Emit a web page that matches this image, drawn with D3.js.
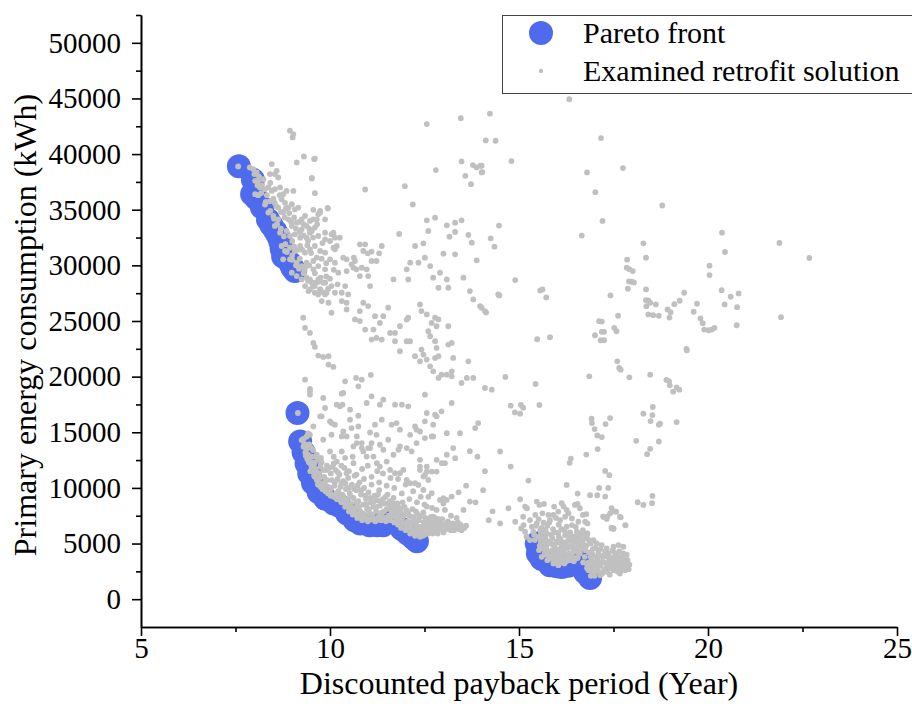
<!DOCTYPE html>
<html>
<head>
<meta charset="utf-8">
<script src="https://cdn.jsdelivr.net/npm/d3@7"></script>
<style>
  body { margin: 0; background: #ffffff; }
  svg text { font-family: "Liberation Serif", "Times New Roman", serif; fill: #000; }
</style>
</head>
<body>
<svg id="chart" width="912" height="727"></svg>
<script>
// Axis ticks
const xTicks = [5, 10, 15, 20, 25];
const xMinorTicks = [7.5, 12.5, 17.5, 22.5];
const yTicks = [0, 5000, 10000, 15000, 20000, 25000, 30000, 35000, 40000, 45000, 50000];
const yMinorTicks = [2500, 7500, 12500, 17500, 22500, 27500, 32500, 37500, 42500, 47500, 52500];

// Series labels
const seriesNames = ["Pareto front", "Examined retrofit solution"];

// Pareto-optimal solutions [payback years, primary energy kWh]
const paretoFront = [
  [7.59,38900],[7.96,37700],[7.94,36400],[8.05,36000],[8.2,35200],[8.36,34100],[8.45,33600],[8.55,33100],
  [8.62,32700],[8.68,32200],[8.72,31500],[8.76,30800],[8.95,30200],[9.0,29800],[9.07,29500],
  [9.14,16730],[9.21,14170],[9.3,13200],[9.38,12200],[9.45,11300],[9.55,10450],[9.7,9600],[9.88,9000],
  [10.1,8600],[10.25,8400],[10.45,7700],[10.65,7100],[10.8,6800],[11.05,6650],[11.25,6650],[11.4,6650],
  [11.6,7000],[11.7,7050],[11.9,6300],[12.05,5900],[12.2,5500],[12.3,5200],
  [15.47,5000],[15.5,4100],[15.6,3600],[15.82,3050],[16.0,2950],[16.13,2900],[16.3,3000],[16.6,3350],
  [16.67,2900],[16.75,2400],[16.88,1900]
];

// Examined solutions: short-payback upper branch
const upperBranch = [
  [8.94,42100],[9.03,41800],[9.01,41500],[7.57,38890],[8.46,39100],[8.59,38500],[8.63,37900],[8.41,38200],
  [8.54,38200],[9.12,39250],[9.31,39790],[9.58,39550],[9.52,37810],[9.6,36490],[9.56,34990],[9.74,34900],
  [9.94,35110],[9.87,34140],[7.88,38800],[7.97,38650],[8.06,38350],[8.02,37600],[8.1,37600],[8.24,37750],
  [8.15,37000],[8.28,36850],[8.37,37000],[8.46,36690],[8.54,36850],[8.68,37000],[8.76,36400],[8.85,36690],
  [9.03,36690],[8.02,36400],[8.1,36310],[8.28,35460],[8.41,35760],[8.54,35610],[8.63,35190],[8.72,35940],
  [8.81,35610],[8.9,35190],[8.99,35490],[9.07,35040],[9.16,35190],[9.25,34140],[9.34,34440],[9.47,33990],
  [9.56,34140],[9.65,34140],[8.37,34750],[8.5,34440],[8.63,34140],[8.76,34750],[8.9,34140],[8.99,33540],
  [9.12,33840],[9.25,33240],[9.38,33540],[9.47,32940],[8.54,33540],[8.68,32940],[8.85,33090],[8.94,32640],
  [9.07,32790],[9.21,32490],[9.38,32490],[9.52,33090],[9.69,32640],[9.87,32940],[10.04,32790],[10.13,32490],
  [10.26,32490],[8.72,31740],[8.81,31290],[8.94,31590],[9.07,31290],[9.21,31740],[9.34,31140],[9.47,31440],
  [9.6,31740],[9.74,31290],[9.87,31140],[10.0,30540],[10.13,30240],[8.76,30540],[8.94,30540],[9.12,30240],
  [9.25,29940],[9.38,30240],[9.56,30390],[9.69,29940],[9.87,29640],[8.99,29340],[9.12,29040],[9.25,28740],
  [9.38,28890],[9.52,28440],[9.34,28140],[9.47,27840],[9.6,28140],[9.74,27840],[9.87,28440],[10.04,28140],
  [10.13,27540],[9.69,27390],[9.87,27390],[9.6,39580],[9.52,37870],[9.94,35160],[9.74,34750],[9.69,34600],
  [9.66,33690],[9.87,32340],[10.09,32940],[10.0,32190],[10.18,31740],[10.09,31590],[10.13,31440],
  [8.12,38000],[8.2,37200],[8.33,36300],[8.42,37400],[8.5,36000],[8.58,35300],[8.67,36300],[8.7,34800],
  [8.8,34300],[8.83,35100],[8.92,34700],[8.97,33900],[9.05,34300],[9.1,33300],[9.18,33900],[9.2,33000],
  [9.3,32700],[9.3,33700],[9.42,32200],[9.45,33300],[9.55,32500],[9.6,33400],[9.8,32000],[9.0,32200],
  [9.05,31700],[9.15,31400],[9.27,31400],[9.4,31800],[9.5,31100],[9.65,30700],[9.78,30600],[9.9,30200],
  [9.0,30900],[9.2,30600],[9.33,29600],[9.45,30000],[9.6,29300],[9.75,28900],[9.9,29000],[10.0,28800],
  [9.3,29300],[9.42,28600],[9.55,28100],[9.68,28500],[9.8,27600],[9.95,27900],[10.2,28300],[10.1,29600],
  [8.0,38200],[8.08,37200],[8.18,36500],[8.3,35700],[8.42,34900],[8.52,34200],[8.6,33700],[8.7,33300],
  [8.78,32600],[8.82,31900],[8.86,31200],[9.0,30500],[9.1,30000],[9.18,29700]
];

// Examined solutions: scattered middle region
const midScatter = [
  [10.35,30690],[10.44,30540],[10.63,30690],[10.79,31890],[10.93,31890],[10.88,31290],[11.1,31230],[11.0,31080],
  [11.37,31740],[11.3,31080],[12.51,30690],[12.25,31740],[12.47,31980],[11.83,32820],[13.0,31050],[13.31,30990],
  [13.16,32580],[13.31,33000],[13.31,33840],[13.48,34050],[13.09,33600],[12.56,34050],[12.78,34290],[12.6,33090],
  [13.66,32730],[13.75,32040],[13.88,30450],[13.46,43220],[12.56,42700],[13.48,39340],[13.78,39010],[13.88,38800],
  [13.98,38950],[14.01,38350],[13.58,38050],[13.73,37300],[12.8,38560],[11.98,37120],[12.19,35470],[10.93,36820],
  [9.38,29940],[9.56,29640],[9.47,28740],[9.6,28440],[9.69,28740],[9.82,28440],[9.74,27840],[9.43,27690],
  [9.6,27540],[9.91,27540],[9.78,26790],[9.96,26640],[10.22,29340],[10.44,29490],[10.57,30090],[10.7,29640],
  [10.84,29790],[10.97,29640],[10.79,29040],[11.01,29040],[11.06,28140],[10.4,28140],[10.31,27540],[10.48,27390],
  [10.31,26790],[10.44,26640],[10.44,26040],[10.04,25740],[9.29,25290],[9.34,24380],[9.47,23930],[9.56,23030],
  [9.6,22670],[9.69,21890],[9.82,21770],[9.96,21830],[9.96,21080],[10.09,20870],[9.34,19730],[9.47,18890],
  [9.47,18380],[9.82,18080],[9.87,17180],[9.78,16430],[10.04,15830],[10.13,15680],[10.26,17330],[10.33,17480],
  [10.4,19580],[10.69,19880],[10.84,19730],[10.75,19130],[10.35,18530],[11.08,20150],[11.19,25430],[11.32,24830],
  [11.41,25430],[11.54,26190],[10.79,25890],[10.88,26640],[11.01,26340],[10.66,25140],[10.79,24990],[10.93,24230],
  [11.15,24230],[11.1,23330],[11.23,23480],[11.37,23330],[11.59,23930],[11.72,23930],[11.85,24530],[11.72,23180],
  [12.07,25290],[12.03,25130],[12.42,25890],[12.56,25590],[12.38,26490],[12.69,24830],[12.78,25290],[12.82,24530],
  [12.6,24080],[12.65,23630],[12.78,23180],[13.13,24530],[12.87,25140],[11.85,22280],[12.03,23180],[12.12,23180],
  [12.25,21830],[12.42,22430],[12.47,21980],[12.38,21380],[12.56,21530],[12.65,20930],[12.82,22580],[12.78,21680],
  [12.87,21830],[12.73,20480],[12.87,19880],[12.95,20180],[13.09,20180],[13.22,20030],[13.22,20480],[13.26,21680],
  [13.13,22880],[13.22,23030],[13.66,21380],[13.48,19430],[13.62,19880],[13.79,19880],[14.1,18980],[14.28,18830],
  [14.45,27390],[14.1,25890],[13.97,26340],[13.79,26940],[13.7,27690],[13.53,28890],[13.09,28740],[13.13,27990],
  [12.87,27990],[12.91,29340],[12.73,28890],[12.65,29940],[12.34,30240],[12.03,29640],[11.68,28740],[12.07,28740],
  [12.12,30240],[11.23,30390],[11.1,30390],[10.66,30390],[10.62,29790],[12.51,18380],[13.22,17630],[12.95,16880],
  [12.78,16580],[12.73,15680],[12.56,16730],[12.25,15530],[12.38,15070],[12.12,14770],[11.85,15230],[11.76,15830],
  [11.63,15680],[11.32,17480],[11.41,17930],[11.37,16130],[11.19,15680],[11.06,14980],[10.75,15530],[10.57,15380],
  [10.35,15070],[10.04,14780],[13.09,14920],[13.44,14920],[13.92,15830],[13.84,15380],[11.23,14770],[10.97,17630],
  [11.1,18230],[11.9,17480],[12.07,17330],[9.47,18680],[10.31,18470],[10.18,17480],[10.53,17030],[10.75,16490],
  [11.72,17480],[12.82,16430],[12.51,15980],[12.29,15230],[10.53,16130],[10.0,15980],[9.74,16430],[9.56,15530]
];

// Examined solutions: dense band along the lower Pareto branch
const lowerBranch = [
  [9.15,16730],[9.25,14300],[9.3,13700],[9.35,13200],[9.4,12600],[9.45,13900],[9.5,12100],[9.38,14600],
  [9.48,11500],[9.55,13400],[9.52,12800],[9.42,14900],[9.6,12300],[9.58,11100],[9.65,13000],[9.62,11700],
  [9.7,12600],[9.68,10700],[9.75,11900],[9.72,11300],[9.8,10400],[9.78,12300],[9.85,11000],[9.82,9900],
  [9.9,11600],[9.88,10600],[9.95,10100],[9.92,12000],[10.0,9600],[10.02,11300],[10.05,10700],[10.08,9300],
  [10.1,12200],[10.12,10200],[10.15,11600],[10.18,9000],[10.2,10800],[10.22,9700],[10.25,11200],[10.28,10100],
  [10.3,8700],[10.33,9400],[10.35,10600],[10.38,11800],[10.4,8300],[10.42,9900],[10.45,9000],[10.48,10900],
  [10.5,7900],[10.52,9500],[10.55,8600],[10.58,10300],[10.6,7600],[10.62,9100],[10.65,11100],[10.68,8200],
  [10.7,9800],[10.72,7300],[10.75,8800],[10.78,10500],[10.8,7900],[10.82,9400],[10.85,7100],[10.88,8500],
  [10.9,10000],[10.92,7600],[10.95,9000],[10.98,8100],[11.0,7000],[11.02,9600],[11.05,7700],[11.08,8700],
  [11.1,10300],[11.12,7200],[11.15,8300],[11.18,9300],[11.2,7000],[11.22,7900],[11.25,8900],[11.28,7400],
  [11.3,9800],[11.32,8400],[11.35,7100],[11.38,7800],[11.4,9000],[11.42,7300],[11.45,8600],[11.48,7000],
  [11.5,8100],[11.52,9400],[11.55,7500],[11.58,8800],[11.6,7100],[11.62,8300],[11.65,7700],[11.68,9100],
  [11.7,6900],[11.72,8000],[11.75,7300],[11.78,8600],[11.8,6700],[11.82,7700],[11.85,8200],[11.88,6400],
  [11.9,7200],[11.92,8700],[11.95,6800],[11.98,7600],[12.0,6200],[12.02,8000],[12.05,7000],[12.08,6500],
  [12.1,7500],[12.12,5900],[12.15,6900],[12.18,8100],[12.2,6300],[12.22,7300],[12.25,5700],[12.28,6700],
  [12.3,7700],[12.32,6100],[12.35,7100],[12.38,5600],[12.4,6500],[12.42,7500],[12.45,6000],[12.48,6900],
  [12.5,5800],[12.52,7300],[12.55,6300],[12.58,6700],[12.6,5900],[12.62,7100],[12.65,6500],[12.68,6100],
  [12.7,6900],[12.72,5900],[12.75,6600],[12.78,7300],[12.8,6200],[12.82,6800],[12.85,5900],[12.88,6500],
  [12.9,7000],[12.95,6300],[12.98,6700],[13.0,6000],[13.05,6600],[13.1,6300],[13.12,7000],[13.15,6500],
  [13.2,6200],[13.25,6800],[13.3,6400],[13.35,6600],[13.4,6300],[13.45,6700],[13.5,6500],[13.55,6400],
  [9.82,14330],[10.0,13270],[10.31,13270],[10.71,14030],[10.84,13580],[11.06,13580],[11.32,13880],[11.54,14330],
  [11.81,13430],[12.03,13580],[12.29,14030],[12.51,14480],[12.73,14630],[13.26,13580],[13.31,12670],[13.04,12220],
  [12.82,11470],[12.56,11470],[12.38,11920],[12.47,11020],[12.6,10720],[12.34,10270],[12.12,10420],[11.94,11620],
  [11.72,11320],[11.5,12370],[11.24,12220],[10.97,12820],[10.62,12220],[10.18,12370],[10.44,11320],[13.0,9070],
  [13.22,9220],[13.53,8020],[13.7,8770],[10.31,14630],[9.47,14780],[10.44,14630],[10.71,14630],[10.84,14030],
  [11.01,13580],[11.1,14030],[12.69,14630],[10.62,13730],[10.88,13280],[11.15,12820],[11.41,13430],[11.68,12980],
  [11.85,13730],[12.16,13280],[12.38,12520],[12.56,11920],[12.38,11620],[12.51,11170],[12.69,11470],[12.82,12520],
  [12.96,12220],[13.09,12980],[11.32,11920],[11.59,11620],[11.85,11320],[12.03,10720],[12.25,10420],[12.47,9820],
  [12.69,9520],[12.91,8920],[13.04,8020],[12.82,8020],[13.09,8920],[12.56,8320],[12.73,7420],
  [13.7,13300],[13.9,12800],[14.1,11500],[13.6,10200],[13.4,9600],[14.3,7900],[14.2,7100],[14.05,9800],[13.85,8700],
  [9.32,13900],[9.36,12900],[9.44,12300],[9.5,13600],[9.57,12000],[9.63,12800],[9.66,11400],[9.73,10900],
  [9.76,12700],[9.83,11600],[9.87,10200],[9.93,10700],[9.97,11800],[10.03,10000],[10.07,11900],[10.13,10500],
  [10.16,9500],[10.21,11400],[10.26,9300],[10.3,10400],[10.36,9100],[10.41,10400],[10.46,8600],[10.5,10000],
  [10.56,9200],[10.6,8200],[10.64,9900],[10.69,8700],[10.73,10200],[10.77,8300],[10.83,9800],[10.87,7700],
  [10.93,9300],[10.97,8500],[11.03,8100],[11.07,9100],[11.13,7600],[11.17,8800],[11.23,8300],[11.27,9400],
  [11.33,7700],[11.37,8700],[11.43,7900],[11.47,9200],[11.53,7300],[11.57,8500],[11.63,7900],[11.67,8600],
  [11.73,7600],[11.77,8300],[11.83,7300],[11.87,7900],[11.93,7400],[11.97,8300],[12.03,6700],[12.07,7800],
  [12.13,6600],[12.17,7400],[12.23,6900],[12.27,7900],[12.33,6500],[12.37,7400],[12.43,6300],[12.47,7800],
  [12.53,6600],[12.57,7200],[12.63,6200],[12.67,7400],[12.73,6400],[12.77,7000],[12.83,6100],[12.87,7200],
  [12.93,6600],[12.97,7200],[13.03,6300],[13.08,6800],[13.18,6600],[13.28,6200],[13.38,6900],[13.48,6200],
  [13.6,6600],[10.1,12800],[10.3,12000],[10.5,11500],[10.7,11200],[10.9,10800],[11.1,11000],[11.3,10500],
  [11.5,10200],[11.7,10000],[11.9,9500],[12.1,9000],[12.3,8700],[12.5,8500],[12.7,8200],[10.6,12800],
  [11.0,12000],[11.4,11300],[11.8,10800],[12.2,9700],[12.6,9200],[13.0,8600],[13.2,7500],[13.35,7300],
  [10.4,12700],[10.85,11700],[11.25,11500],[11.6,10900],[12.0,10300],[12.4,9200],
  [9.3,14400],[9.38,13500],[9.45,12600],[9.52,11800],[9.6,11000],[9.68,10300],[9.8,9900],[9.95,9500],
  [10.1,9200],[10.2,9000],[10.35,8700],[10.5,8300],[10.62,7900],[10.75,7500],[10.9,7300],[11.05,7200],
  [11.2,7200],[11.35,7200],[11.5,7300],[11.65,7500],[11.8,7200],[11.95,6800],[12.1,6400],[12.25,6000],
  [12.38,5800],[9.35,13900],[9.42,13000],[9.5,12300],[9.58,11500],[9.65,10700],[9.75,10100],[9.88,9700],
  [10.02,9300],[10.28,8900],[10.42,8500],[10.55,8100],[10.7,7700],[10.82,7400],[10.98,7250],[11.12,7150],
  [11.28,7150],[11.45,7250],[11.58,7400],[11.75,7400],[11.88,7000],[12.02,6600],[12.15,6200],[12.3,5950],
  [12.45,5700]
];

// Examined solutions: long-payback region
const longPayback = [
  [16.33,44930],[14.23,43630],[14.12,41230],[14.38,41200],[17.17,41440],[14.8,39370],[14.01,38950],[14.03,38380],
  [16.8,38350],[17.75,38740],[17.02,36580],[18.79,35380],[14.47,33580],[14.25,32430],[14.35,31680],[16.66,32680],
  [17.21,33990],[18.29,31980],[18.36,30690],[17.86,30510],[17.85,29790],[17.92,29640],[18.01,29490],[17.91,28560],
  [17.98,28530],[18.04,28470],[17.88,27900],[18.36,27840],[18.36,26870],[18.42,26850],[18.37,26330],[18.47,26640],
  [18.62,26490],[18.42,25590],[18.55,25520],[18.7,25470],[18.93,26040],[19.01,25790],[18.98,25310],[19.11,26510],
  [19.25,26820],[19.37,27540],[19.71,26550],[19.62,25830],[19.8,25230],[19.86,24800],[19.9,24230],[20.02,24170],
  [20.1,24230],[20.17,24390],[20.04,29970],[20.04,29130],[20.37,32940],[20.45,31200],[20.36,27770],[20.6,27180],
  [20.81,27480],[20.44,26490],[20.77,26240],[20.76,24620],[21.89,32010],[22.68,30660],[21.93,25340],[17.42,27300],
  [17.62,25470],[17.52,24390],[17.58,24080],[17.12,24980],[17.19,24950],[17.19,24030],[17.25,24030],[17.01,23720],
  [17.16,23270],[17.25,23270],[15.56,27750],[15.62,27840],[15.72,27120],[14.9,28680],[14.48,27300],[14.01,26190],
  [14.13,25770],[15.48,23360],[15.82,23540],[19.43,22500],
  [19.44,22370],[17.6,21380],[17.65,20780],[17.69,20630],[17.92,19940],[16.86,20030],[18.47,20180],[18.9,19700],
  [18.97,19580],[18.99,19220],[19.08,18650],[19.17,19040],[19.24,18830],[14.64,19970],[15.44,19340],[15.54,17450],
  [14.78,17390],[14.89,16780],[15.03,16670],[15.05,17450],[15.11,17210],[14.5,13270],[14.78,11920],[15.25,10660],
  [16.26,10270],[16.37,12640],[16.34,12250],[16.78,13000],[17.08,13490],[16.92,16220],[16.93,15830],[17.0,15290],
  [17.07,14710],[17.19,14570],[17.29,15740],[17.41,16280],[18.1,14230],[18.39,13030],[18.47,13510],[18.7,14170],
  [18.29,16670],[18.48,16010],[18.53,16550],[18.54,17270],[18.7,15680],[18.73,15770],[19.17,15920],[17.28,11530],
  [17.39,11140],[17.12,10000],[17.36,10000],[17.28,9220],[16.88,9340],[17.07,9340],[16.55,9490],[18.14,8710],
  [18.29,8470],[18.52,8620],[18.53,9280],[17.57,7860],[17.45,8170],[17.69,7360],[17.82,6640],[17.45,6420],
  [17.5,6310],[17.23,7420],[17.32,7210],[17.34,7420]
];

// Examined solutions: dense cluster around 15.5–18 years
const rightCluster = [
  [15.03,8980],[15.16,8320],[15.21,8170],[15.47,8770],[15.54,8470],[15.66,8560],[15.93,8320],[16.04,7870],
  [16.13,8620],[16.18,8320],[16.26,8020],[16.31,7720],[16.48,8470],[16.55,8560],[16.61,8170],[16.69,7570],
  [16.78,7650],[16.81,6810],[16.75,6960],[16.57,6960],[16.4,6660],[16.26,6510],[15.91,7570],[15.82,7110],
  [15.65,6870],[15.43,7570],[15.29,7110],[15.34,6510],[15.38,6060],[15.56,6210],[15.73,5910],[16.04,5970],
  [16.22,5760],[16.35,5610],[16.48,5610],[16.61,5610],[16.79,5610],[16.97,5310],[17.06,5010],[17.19,4860],
  [17.32,4560],[17.5,4710],[17.63,4860],[17.76,4710],[17.87,3510],[17.81,2610],[17.67,2310],[17.5,2610],
  [17.32,2460],[17.15,2160],[16.97,2310],[16.84,2610],[16.79,3210],[16.93,3510],[17.06,3810],[17.23,3810],
  [17.41,3510],[17.59,3210],[17.72,3360],[17.76,4110],[17.54,4110],[17.37,4110],[17.19,3360],[17.06,2760],
  [17.32,3060],[17.5,2910],[17.63,2760],[16.93,2910],[16.74,3810],[16.61,4110],[16.53,4560],[16.4,4710],
  [16.26,5010],[16.13,4860],[15.99,5160],[15.82,5160],[15.64,4860],[15.53,4410],[15.6,3810],[15.75,3510],
  [15.91,3210],[16.04,3060],[16.2,3210],[16.35,3510],[16.44,3660],[16.35,4110],[16.22,4110],[16.04,4110],
  [15.91,4110],[15.76,4260],[15.63,4560],[15.42,5310],[15.29,5310],[15.2,5610],[15.16,6060],[15.12,6660],
  [15.06,6360],[15.11,7410],[15.47,6810],[15.62,7720],[15.78,7570],[16.09,7110],[16.22,7410],[16.4,7260],
  [16.53,6060],[16.69,6210],[16.81,5910],[16.9,5010],[16.69,5010],[16.61,4860],[14.9,6960],[14.72,8170],
  [14.5,6810],[17.41,7720],[17.54,7870],[17.67,7410],[17.81,6660],[17.45,6360],[17.5,6360],[17.23,7410],
  [15.5,5600],[15.58,5200],[15.7,5500],[15.85,5800],[15.95,4700],[16.1,5400],[16.18,4500],[16.3,5300],
  [16.42,5000],[16.5,4300],[15.68,4100],[15.8,3900],[15.95,3600],[16.1,3800],[16.25,3700],[16.4,4000],
  [15.55,4800],[15.72,4600],[15.88,4400],[16.02,4350],[16.15,4200],[16.28,4550],[16.45,3400],[16.55,3800],
  [15.6,6400],[15.75,6600],[15.9,6300],[16.05,6700],[16.2,6200],[16.35,6000],[16.5,5300],[16.6,5900],
  [16.7,5400],[16.75,4400],[16.85,4200],[16.95,4500],[17.0,3300],[17.1,4200],[17.15,3000],[17.28,4300],
  [17.35,3800],[17.42,3100],[17.48,4400],[17.55,3600],[17.6,2500],[17.7,3800],[17.75,2900],[17.82,3200],
  [17.88,3000],[17.9,2700],[17.1,2500],[17.25,2700],[17.4,2200],[17.0,2100],[16.9,3100],[17.2,2300],
  [17.45,2800],[17.65,4300],[17.85,4000],
  [15.4,5800],[15.45,6600],[15.52,7200],[15.58,6000],[15.66,5300],[15.7,6200],[15.78,5000],[15.8,6900],
  [15.88,5500],[15.95,6000],[15.98,7300],[16.05,5600],[16.08,4500],[16.12,6300],[16.18,5100],[16.25,5900],
  [16.32,4700],[16.38,5700],[16.45,4400],[16.5,6500],[16.55,5000],[16.62,5300],[16.68,4600],[16.72,5900],
  [16.78,4800],[16.85,5300],[16.9,3800],[16.95,4000],[17.02,4600],[17.08,3600],[17.15,4500],[17.2,3900],
  [17.25,3300],[17.3,4000],[17.38,3400],[17.45,3700],[17.52,3300],[17.58,3900],[17.62,3500],[17.7,3100],
  [17.78,3600],[17.85,3400],[17.92,3100],[17.05,3200],[16.98,2700],[17.35,2700],[17.55,2900],[17.7,2600],
  [15.7,4300],[15.85,3700],[16.0,3900],[16.15,3500],[16.3,3800],[16.45,4600],[16.6,4400],[15.62,5600],
  [15.75,5200],[15.9,4900],[16.05,5100],[16.2,4900],[16.38,5300],
  [15.58,5300],[15.6,4600],[15.68,4000],[15.8,3600],[15.95,3400],[16.1,3300],[16.25,3400],[16.45,3500],
  [16.7,3300],[16.8,2800],[16.95,2300],[15.65,4900],[15.75,4200],[15.9,3800],[16.05,3600],[16.2,3600],
  [16.55,3700],[16.85,3300],[17.0,2600],[16.9,2100]
];

const examined = [].concat(upperBranch, midScatter, lowerBranch, longPayback, rightCluster);

const paretoColor = "#4f6bed";
const examinedColor = "#c0c0c0";
const serif = "'Liberation Serif','Times New Roman',serif";

const svg = d3.select("#chart");
const x = d3.scaleLinear().domain([5, 25]).range([141, 897]);
const y = d3.scaleLinear().domain([-2500, 52500]).range([627, 15]);

// Points: Pareto front underneath, examined solutions on top
svg.append("g").selectAll("circle").data(paretoFront).join("circle")
  .attr("cx", d => x(d[0])).attr("cy", d => y(d[1])).attr("r", 12)
  .attr("fill", paretoColor);

svg.append("g").selectAll("circle").data(examined).join("circle")
  .attr("cx", d => x(d[0])).attr("cy", d => y(d[1])).attr("r", 2.9)
  .attr("fill", examinedColor);

// Axes
const fmt = d3.format("d");
svg.append("g").attr("class", "axis").attr("transform", "translate(141,0)")
  .call(d3.axisLeft(y).tickValues(yTicks).tickFormat(fmt).tickSize(9).tickPadding(11).tickSizeOuter(0));
svg.append("g").attr("class", "axis").attr("transform", "translate(141,0)")
  .call(d3.axisLeft(y).tickValues(yMinorTicks).tickFormat("").tickSize(5).tickSizeOuter(0));
svg.append("g").attr("class", "axis").attr("transform", "translate(0,627)")
  .call(d3.axisBottom(x).tickValues(xTicks).tickFormat(fmt).tickSize(9).tickPadding(1).tickSizeOuter(0));
svg.append("g").attr("class", "axis").attr("transform", "translate(0,627)")
  .call(d3.axisBottom(x).tickValues(xMinorTicks).tickFormat("").tickSize(5).tickSizeOuter(0));

svg.selectAll(".axis").attr("font-family", null).attr("font-size", null);
svg.selectAll(".domain, .tick line").attr("stroke", "#000").attr("stroke-width", 1.6);
svg.selectAll(".tick text")
  .style("font-size", "29px").style("font-family", serif).style("fill", "#000");

// Axis titles
svg.append("text").attr("x", 519).attr("y", 694).attr("text-anchor", "middle")
  .style("font-size", "32px").text("Discounted payback period (Year)");
svg.append("text").attr("transform", "translate(36,325) rotate(-90)").attr("text-anchor", "middle")
  .style("font-size", "32px").text("Primary energy consumption (kWh)");

// Legend
const legend = svg.append("g");
legend.append("rect").attr("x", 502.5).attr("y", 15.5).attr("width", 440).attr("height", 78)
  .attr("fill", "#fff").attr("stroke", "#444").attr("stroke-width", 1);
legend.append("circle").attr("cx", 541).attr("cy", 33).attr("r", 12).attr("fill", paretoColor);
legend.append("text").attr("x", 583).attr("y", 43).style("font-size", "30px").text(seriesNames[0]);
legend.append("circle").attr("cx", 541).attr("cy", 71).attr("r", 2.2).attr("fill", examinedColor);
legend.append("text").attr("x", 583).attr("y", 81).style("font-size", "30px").text(seriesNames[1]);
</script>
</body>
</html>
